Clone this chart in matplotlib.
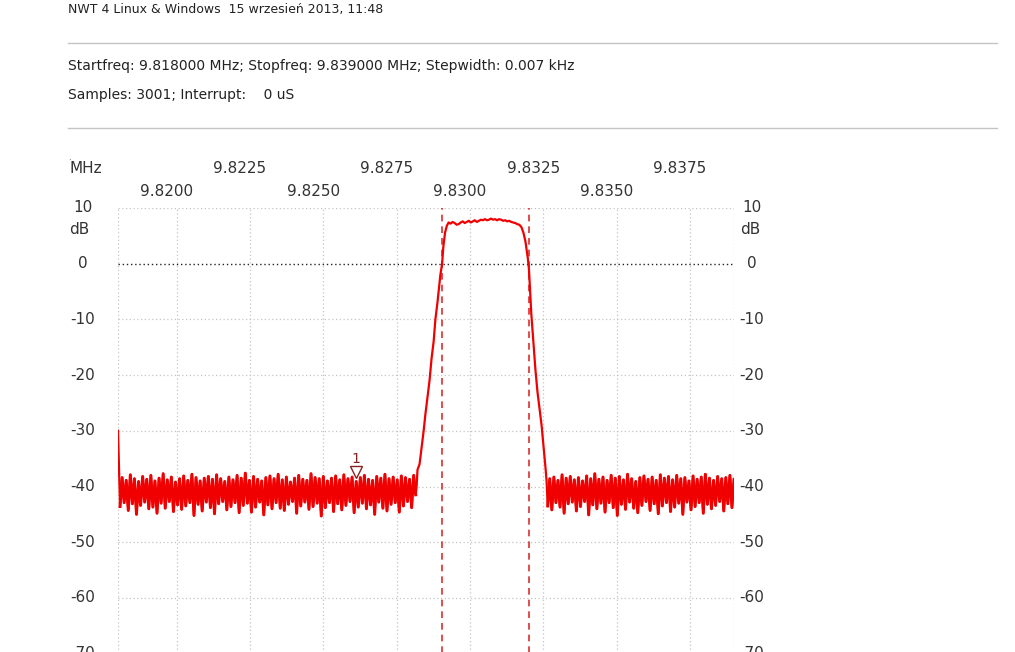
import numpy as np
import matplotlib
matplotlib.use("Agg")
import matplotlib.pyplot as plt
import matplotlib.transforms as mtransforms

# sweep header
title_line = "NWT 4 Linux & Windows  15 wrzesień 2013, 11:48"
sweep_line = "Startfreq: 9.818000 MHz; Stopfreq: 9.839000 MHz; Stepwidth: 0.007 kHz"
samples_line = "Samples: 3001; Interrupt:    0 uS"

f_start = 9.818
f_stop = 9.839
db_top = 10
db_bottom = -90

x_grid = [9.8200, 9.8225, 9.8250, 9.8275, 9.8300, 9.8325, 9.8350, 9.8375]
x_labels_low = ["9.8200", "9.8250", "9.8300", "9.8350"]
x_labels_high = ["9.8225", "9.8275", "9.8325", "9.8375"]
y_ticks = [10, 0, -10, -20, -30, -40, -50, -60, -70, -80, -90]
y_labels = ["10", "0", "-10", "-20", "-30", "-40", "-50", "-60", "-70"]

# cursor lines (0 dB crossings) and marker 1
cursor_f = [9.82905, 9.83200]
marker_f = 9.82610
marker_db = -38.6

# noise floor left of the filter, every 10th sample (first sample is the start spike)
noise_left_db = [
    -30.0,
    -43.6, -38.4, -42.9, -38.9, -44.3, -37.9, -43.1, -38.6, -45.0, -39.1,
    -43.4, -38.2, -42.8, -38.7, -44.0, -38.0, -43.7, -39.0, -44.8, -38.5,
    -43.0, -37.7, -43.9, -38.8, -42.7, -38.3, -44.5, -39.2, -43.3, -38.6,
    -44.1, -38.1, -43.5, -38.9, -42.9, -37.8, -45.2, -38.4, -43.2, -39.0,
    -44.4, -38.5, -42.8, -38.2, -43.8, -38.7, -44.9, -37.9, -43.1, -38.6,
    -42.7, -39.1, -44.2, -38.3, -43.6, -38.8, -42.9, -38.0, -44.7, -38.5,
    -43.4, -37.6, -43.0, -38.9, -44.6, -38.2, -43.7, -38.7, -42.8, -39.0,
    -45.1, -38.4, -43.3, -38.1, -44.0, -38.6, -42.9, -37.8, -43.9, -38.8,
    -44.3, -38.3, -43.2, -39.2, -42.7, -38.5, -44.8, -38.0, -43.5, -38.7,
    -42.8, -38.9, -44.1, -37.7, -43.6, -38.4, -43.0, -38.6, -45.3, -38.2,
    -43.8, -39.0, -42.9, -38.5, -44.5, -38.1, -43.1, -38.8, -44.2, -37.9,
    -43.4, -38.6, -42.7, -38.3, -44.7, -39.1, -43.7, -38.4, -43.0, -38.0,
    -44.0, -38.7, -43.3, -38.9, -45.0, -38.2, -42.8, -38.5, -43.9, -37.8,
    -44.4, -38.6, -43.2, -38.3, -42.9, -38.8, -44.6, -38.1, -43.5, -38.4,
    -42.7, -38.7, -43.8, -38.0, -41.5,
]
noise_left_f = (9.81800, 9.82815)

rise_f = [9.82818, 9.82821, 9.82828, 9.82835, 9.82842, 9.82848, 9.82855, 9.82862,
          9.82869, 9.82876, 9.82882, 9.82889, 9.82895, 9.82899, 9.82905, 9.82909,
          9.82915, 9.82921]
rise_db = [-40, -37, -36, -33, -30, -27, -24, -21, -17, -14, -10, -7, -4, -2, 0, 3, 5.6, 6.8]

pass_db = [
    7.4, 7.2, 7.5, 7.3, 7.0, 7.1, 7.4, 7.6, 7.3, 7.5,
    7.7, 7.4, 7.6, 7.8, 7.5, 7.7, 7.9, 7.8, 8.0, 7.8,
    7.9, 8.1, 7.9, 8.0, 7.8, 8.0, 7.9, 7.7, 7.8, 7.6,
    7.7, 7.5, 7.4, 7.3, 7.1, 7.0,
]
pass_f = (9.82927, 9.83168)

fall_f = [9.83175, 9.83182, 9.83189, 9.83193, 9.83197, 9.83201, 9.83205, 9.83209,
          9.83216, 9.83223, 9.83230, 9.83237, 9.83244, 9.83251, 9.83258, 9.83261]
fall_db = [6.6, 5.6, 4.0, 2.5, 1.0, -1, -5, -9, -14, -19, -23, -26, -29, -33, -37, -39]

noise_right_db = [
    -43.5, -38.6, -44.2, -38.3, -42.9, -38.9, -43.7, -37.9, -44.8, -38.5,
    -43.1, -38.2, -42.8, -38.8, -44.4, -38.4, -43.6, -39.0, -42.7, -38.1,
    -45.1, -38.6, -43.3, -37.7, -44.0, -38.7, -43.0, -38.3, -44.6, -38.9,
    -42.9, -38.0, -43.8, -38.5, -45.2, -38.2, -43.2, -38.8, -44.1, -37.8,
    -42.8, -38.6, -43.9, -39.1, -44.7, -38.4, -43.4, -38.1, -42.7, -38.7,
    -44.3, -38.3, -43.1, -38.9, -44.9, -37.9, -43.5, -38.5, -42.9, -38.2,
    -44.5, -38.8, -43.7, -38.0, -43.0, -38.6, -45.0, -38.4, -42.8, -39.0,
    -44.2, -38.1, -43.6, -38.7, -42.9, -38.3, -44.8, -37.8, -43.2, -38.5,
    -44.0, -38.9, -43.4, -38.2, -42.7, -38.6, -44.4, -38.4, -43.1, -38.0,
    -43.8, -38.7,
]
noise_right_f = (9.83265, 9.83900)

# build the trace
fl = np.linspace(noise_left_f[0], noise_left_f[1], len(noise_left_db))
fr = np.linspace(noise_right_f[0], noise_right_f[1], len(noise_right_db))
f = np.concatenate([fl, rise_f, np.linspace(pass_f[0], pass_f[1], len(pass_db)), fall_f, fr])
db = np.concatenate([noise_left_db, rise_db, pass_db, fall_db, noise_right_db])

W, H = 1015, 652
fig = plt.figure(figsize=(W / 100, H / 100), dpi=100)
fig.patch.set_facecolor("white")

txt_col = "#222222"
hfont = dict(family="DejaVu Sans", fontsize=10, color=txt_col)
tfont = dict(family="DejaVu Sans", fontsize=11, color="#333333")

# header
fig.text(68 / W, 1 - 9 / H, title_line, ha="left", va="center",
         family="DejaVu Sans", fontsize=9, color=txt_col)
fig.text(68 / W, 1 - 66 / H, sweep_line, ha="left", va="center", **hfont)
fig.text(68 / W, 1 - 95 / H, samples_line, ha="left", va="center", **hfont)
for yy in [43, 128]:
    fig.add_artist(plt.Line2D([68 / W, 997 / W], [1 - yy / H, 1 - yy / H],
                              color="#c4c4c4", lw=1.0))

# plot area: 10 dB at y=208 px, 5.57 px per dB
x0, x1 = 118, 734
ytop = 208
px_db = 5.57
ax_h = (db_top - db_bottom) * px_db
ax = fig.add_axes([x0 / W, 1 - (ytop + ax_h) / H, (x1 - x0) / W, ax_h / H])
ax.set_xlim(f_start, f_stop)
ax.set_ylim(db_bottom, db_top)
for s in ax.spines.values():
    s.set_visible(False)
ax.set_xticks([])
ax.set_yticks([])

grid_kw = dict(color="#c4c4c4", lw=0.9, linestyle=(0, (1, 2)), zorder=1)
for xv in [f_start] + x_grid + [f_stop]:
    ax.axvline(xv, **grid_kw)
for yv in y_ticks:
    if yv != 0:
        ax.axhline(yv, **grid_kw)
ax.axhline(0, color="#222222", lw=1.0, linestyle=(0, (1, 2)), zorder=2)

for cf in cursor_f:
    ax.axvline(cf, color="#d83030", lw=1.2, linestyle=(0, (4, 3)), zorder=2)

ax.plot(f, db, color="#f00000", lw=1.6, zorder=3)
# noise floor is drawn heavier so the dense sweep reads as a solid band
ax.plot(fl[1:], noise_left_db[1:], color="#f00000", lw=2.1, zorder=3)
ax.plot(fr, noise_right_db, color="#f00000", lw=2.1, zorder=3)

# marker 1
mk_off = mtransforms.ScaledTranslation(0, 4.5 / 72, fig.dpi_scale_trans)
ax.plot([marker_f], [marker_db], marker="v", ms=8, mfc="white", mec="#8b2020",
        mew=1.0, ls="none", transform=ax.transData + mk_off, zorder=4)
ax.annotate("1", xy=(marker_f, marker_db), xytext=(0, 14), textcoords="offset points",
            ha="center", va="center", fontsize=10, color="#8b2020", zorder=5)

# frequency labels above the plot
xlab_off = mtransforms.ScaledTranslation(-10 / 100, 0, fig.dpi_scale_trans)
btrans = mtransforms.blended_transform_factory(ax.transData, fig.transFigure) + xlab_off
for v, lab in zip(x_grid[1::2], x_labels_high):
    ax.text(v, 1 - 169 / H, lab, transform=btrans, ha="center", va="center", **tfont)
for v, lab in zip(x_grid[0::2], x_labels_low):
    ax.text(v, 1 - 191 / H, lab, transform=btrans, ha="center", va="center", **tfont)
fig.text(86 / W, 1 - 169 / H, "MHz", ha="center", va="center", **tfont)
fig.text(69 / W, 1 - 157 / H, ".", ha="center", va="center", fontsize=6, color="#333333")

# dB labels both sides
ltrans = mtransforms.blended_transform_factory(fig.transFigure, ax.transData)
for v, lab in zip(y_ticks, y_labels):
    ax.text(83 / W, v, lab, transform=ltrans, ha="center", va="center", clip_on=False, **tfont)
    ax.text(752 / W, v, lab, transform=ltrans, ha="center", va="center", clip_on=False, **tfont)
fig.text(79 / W, 1 - 229 / H, "dB", ha="center", va="center", **tfont)
fig.text(750 / W, 1 - 229 / H, "dB", ha="center", va="center", **tfont)

fig.savefig("out.png", dpi=100, facecolor="white")
